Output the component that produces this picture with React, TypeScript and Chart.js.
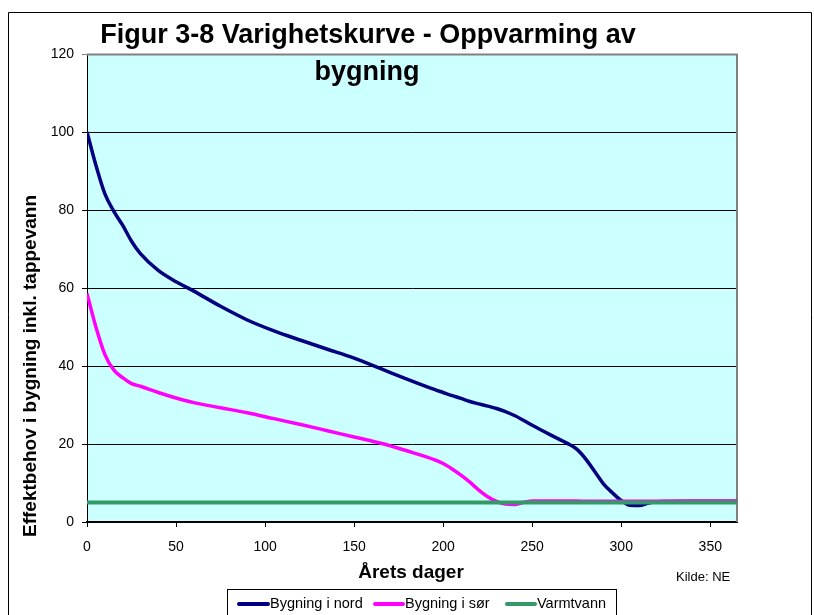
import React, { useEffect, useRef } from "react";
import { Chart, registerables } from "chart.js";

Chart.register(...registerables);

// Day of year at which each load value is given
const DAYS = [
  0, 5, 10, 15, 20, 25, 30, 40, 50, 60, 75, 90, 105, 120, 135, 150, 165, 180, 195,
  200, 205, 210, 215, 220, 225, 230, 235, 240, 245, 250, 260, 270, 275, 280, 285,
  290, 295, 300, 305, 310, 315, 320, 340, 365,
];

// Building in the north
const NORD = [
  100, 91.5, 84.2, 79.7, 76.1, 72, 68.8, 64.5, 61.6, 59.2, 55.3, 51.8, 49, 46.6, 44.3,
  42, 39.3, 36.6, 34, 33.2, 32.4, 31.7, 30.9, 30.3, 29.7, 29.1, 28.3, 27.3, 26.1, 24.8,
  22.4, 20.1, 18.7, 16.2, 13, 9.8, 7.5, 5.5, 4.3, 4.2, 4.8, 5.2, 5.3, 5.3,
];

// Building in the south
const SOR = [
  58.6, 50, 43, 39, 37, 35.5, 34.8, 33.2, 31.8, 30.6, 29.3, 28, 26.5, 25, 23.4, 21.8,
  20.2, 18.2, 16, 15, 13.6, 12, 10.2, 8.2, 6.5, 5.3, 4.6, 4.5, 5, 5.4, 5.4, 5.4, 5.4,
  5.3, 5.3, 5.3, 5.3, 5.3, 5.3, 5.3, 5.3, 5.3, 5.3, 5.3,
];

// Hot tap water
const VARMTVANN = DAYS.map(() => 5);

const SERIES_NAMES = ["Bygning i nord", "Bygning i sør", "Varmtvann"];
const SERIES_COLORS = ["#000080", "#FF00FF", "#339966"];

const TITLE_LINES = ["Figur 3-8 Varighetskurve - Oppvarming av", "bygning"];
const Y_TITLE = "Effektbehov i bygning inkl. tappevann";
const X_TITLE = "Årets dager";
const SOURCE = "Kilde: NE";

const FONT = '"Liberation Sans", Arial, sans-serif';

const decor = {
  id: "decor",
  beforeDraw(chart: any) {
    const { ctx, chartArea: a, width, height } = chart;
    ctx.save();
    ctx.fillStyle = "#ffffff";
    ctx.fillRect(0, 0, width, height);
    // outer frame
    ctx.strokeStyle = "#000";
    ctx.lineWidth = 1;
    ctx.beginPath();
    ctx.moveTo(8.5, height + 5);
    ctx.lineTo(8.5, 12.5);
    ctx.lineTo(811.5, 12.5);
    ctx.lineTo(811.5, height + 5);
    ctx.stroke();
    // plot background
    ctx.fillStyle = "#CCFFFF";
    ctx.fillRect(a.left, a.top, a.right - a.left, a.bottom - a.top);
    ctx.restore();
  },
  beforeDatasetsDraw(chart: any) {
    const { ctx, chartArea: a } = chart;
    ctx.save();
    ctx.strokeStyle = "#808080";
    ctx.lineWidth = 2;
    ctx.beginPath();
    ctx.moveTo(a.left, a.top + 0.5);
    ctx.lineTo(a.right, a.top + 0.5);
    ctx.lineTo(a.right, a.bottom);
    ctx.stroke();
    ctx.restore();
  },
  afterDraw(chart: any) {
    const { ctx } = chart;
    ctx.save();
    ctx.fillStyle = "#000";
    ctx.textAlign = "center";
    ctx.textBaseline = "middle";

    ctx.font = `bold 27px ${FONT}`;
    ctx.fillText(TITLE_LINES[0], 368, 36);
    ctx.fillText(TITLE_LINES[1], 367, 73);

    ctx.font = `bold 19px ${FONT}`;
    ctx.fillText(X_TITLE, 411, 573);

    ctx.save();
    ctx.translate(31, 366);
    ctx.rotate(-Math.PI / 2);
    ctx.fillText(Y_TITLE, 0, 0);
    ctx.restore();

    ctx.textAlign = "left";
    ctx.font = `13px ${FONT}`;
    ctx.fillText(SOURCE, 676, 577);

    // legend
    ctx.strokeStyle = "#000";
    ctx.lineWidth = 1;
    ctx.strokeRect(227.5, 589.5, 389, 40);
    const items = [
      { x0: 239, x1: 268, tx: 270 },
      { x0: 375, x1: 403, tx: 405 },
      { x0: 507, x1: 535, tx: 537 },
    ];
    ctx.font = `14.5px ${FONT}`;
    items.forEach((it, i) => {
      ctx.strokeStyle = SERIES_COLORS[i];
      ctx.lineWidth = 4;
      ctx.lineCap = "round";
      ctx.beginPath();
      ctx.moveTo(it.x0, 604);
      ctx.lineTo(it.x1, 604);
      ctx.stroke();
      ctx.fillStyle = "#000";
      ctx.fillText(SERIES_NAMES[i], it.tx, 604);
    });
    ctx.restore();
  },
};

export default function App() {
  const ref = useRef<HTMLCanvasElement | null>(null);

  useEffect(() => {
    if (!ref.current) return;
    Chart.defaults.font.family = FONT;
    const series = [NORD, SOR, VARMTVANN];
    const chart = new Chart(ref.current, {
      type: "line",
      data: {
        datasets: series.map((vals, i) => ({
          label: SERIES_NAMES[i],
          data: DAYS.map((d, k) => ({ x: d, y: vals[k] })),
          borderColor: SERIES_COLORS[i],
          backgroundColor: SERIES_COLORS[i],
          borderWidth: i === 2 ? 4 : 3.5,
          pointRadius: 0,
          fill: false,
          cubicInterpolationMode: "monotone",
          order: 3 - i,
        })),
      },
      options: {
        animation: false,
        responsive: false,
        devicePixelRatio: 1,
        layout: { padding: { left: 0, top: 54, right: 77, bottom: 0 } },
        plugins: {
          legend: { display: false },
          title: { display: false },
          tooltip: { enabled: false },
        },
        scales: {
          x: {
            type: "linear",
            min: 0,
            max: 365,
            afterFit: (s: any) => {
              s.height = 93;
            },
            ticks: {
              stepSize: 50,
              includeBounds: false,
              color: "#000",
              font: { size: 14 },
              padding: 12,
              maxRotation: 0,
            },
            grid: {
              drawOnChartArea: false,
              drawTicks: true,
              tickLength: 5,
              color: "#000",
            },
            border: { color: "#000", width: 2 },
          },
          y: {
            type: "linear",
            min: 0,
            max: 120,
            afterFit: (s: any) => {
              s.width = 87;
            },
            ticks: {
              stepSize: 20,
              color: "#000",
              font: { size: 14 },
              padding: 8,
            },
            grid: {
              color: (c: any) => (c.tick && c.tick.value === 120 ? "#808080" : "#000"),
              tickLength: 5,
              lineWidth: 1,
            },
            border: { color: "#000", width: 1 },
          },
        },
      },
      plugins: [decor],
    } as any);
    return () => chart.destroy();
  }, []);

  return (
    <div style={{ position: "fixed", left: 0, top: 0, width: 814, height: 615, background: "#fff" }}>
      <canvas ref={ref} width={814} height={615} style={{ display: "block", width: 814, height: 615 }} />
    </div>
  );
}
